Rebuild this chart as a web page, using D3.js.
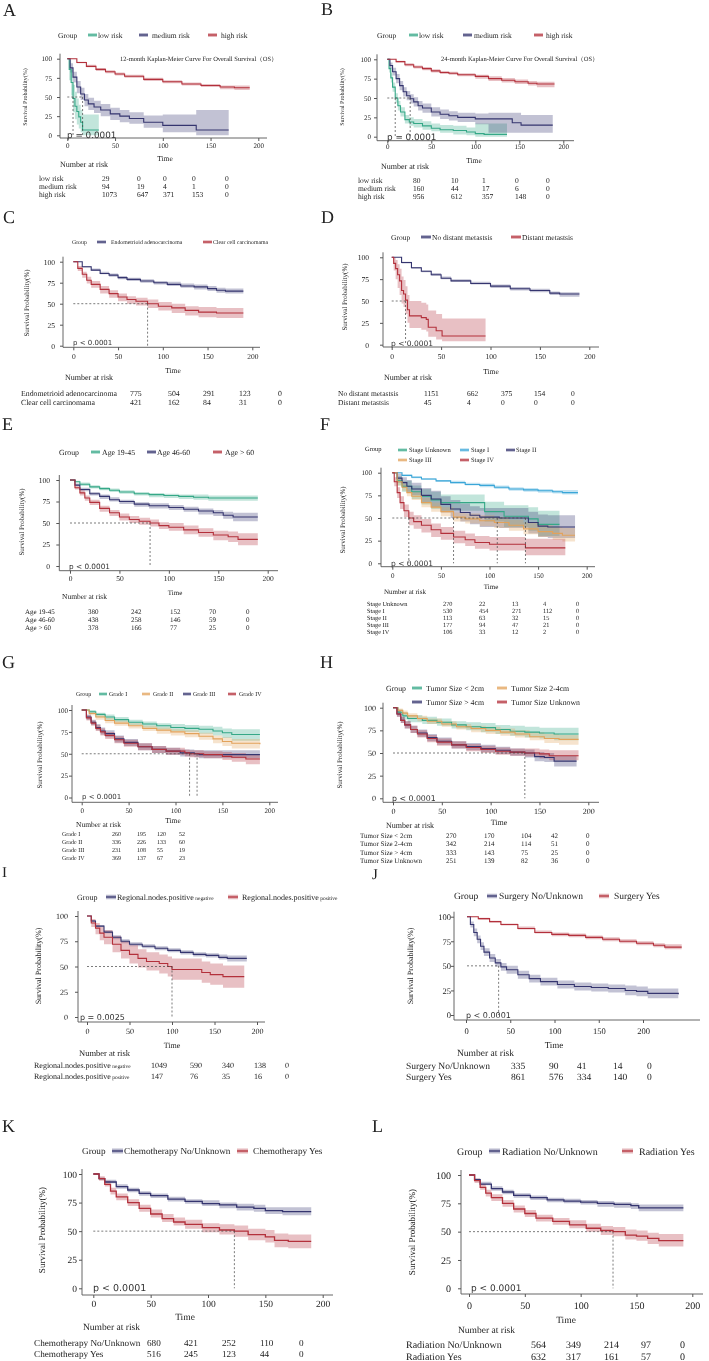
<!DOCTYPE html>
<html>
<head>
<meta charset="utf-8">
<script src="https://cdn.jsdelivr.net/npm/d3@7"></script>
<style>
body { margin: 0; background: #fff; }
svg { display: block; will-change: transform; }
text { font-family: "Liberation Serif", "Times New Roman", serif; fill: #222; -webkit-font-smoothing: antialiased; text-rendering: geometricPrecision; }
</style>
</head>
<body>
<svg id="fig" width="709" height="1361"></svg>
<script>
// ---- data: [time, survival, lower CI, upper CI] ----
const timeTicks = [0, 50, 100, 150, 200]
const survTicks = [0, 25, 50, 75, 100]

const groupsA = ["low risk", "medium risk", "high risk"]
const aLow = [[0,100,100,100],[2,86,72,98],[4,69,52,86],[6,48,30,66],[8,38,21,57],[10,31,14,48],[12,24,9,40],[14,17,4,33],[16,7,0,27],[33,7,0,27]]
const aMed = [[0,100,100,100],[3,88,82,94],[6,76,69,83],[10,63,55,71],[14,54,46,62],[18,46,38,54],[22,41,33,49],[28,37,29,45],[35,33,25,41],[45,28,20,36],[55,25,17,33],[65,22,15,30],[80,17,10,26],[100,13,4,27],[120,13,4,27],[135,7,0,33],[169,7,0,33]]
const aHigh = [[0,100,100,100],[10,95,94,96],[20,90,89,92],[30,86,84,88],[40,83,81,85],[50,80,78,82],[60,77,75,79],[80,73,71,75],[100,70,68,72],[120,67,65,69],[140,65,63,67],[160,63,60,65],[175,62,59,65],[191,62,59,65]]
const riskA = [[29,0,0,0,0],[94,19,4,1,0],[1073,647,371,153,0]]
const mediansA = [6, 16]

const groupsB = ["low risk", "medium risk", "high risk"]
const bLow = [[0,100,100,100],[2,88,83,93],[4,76,70,82],[6,64,58,70],[9,50,44,56],[12,40,34,46],[15,32,26,38],[20,22,17,28],[25,19,14,25],[30,17,12,23],[40,14,9,20],[50,11,7,17],[60,9,5,15],[75,8,3,14],[90,6,2,12],[100,4,0,17],[110,3,0,17],[136,3,0,17]]
const bMed = [[0,100,100,100],[3,92,88,96],[6,84,79,89],[10,75,69,81],[14,66,60,72],[18,58,52,64],[22,53,47,59],[26,49,43,55],[30,45,39,51],[35,40,34,46],[40,37,31,43],[50,32,26,38],[60,29,23,35],[70,27,21,33],[80,25,19,31],[100,23,16,30],[115,23,5,31],[142,18,5,31],[152,15,5,28],[188,15,5,28]]
const bHigh = [[0,100,100,100],[10,97,96,98],[20,93,91,95],[30,90,88,92],[40,88,86,90],[50,85,83,87],[60,83,81,85],[70,82,80,84],[80,80,78,82],[100,78,75,80],[115,75,72,78],[130,73,70,76],[145,71,68,74],[160,69,66,72],[170,68,64,71],[190,68,64,71]]
const riskB = [[80,10,1,0,0],[160,44,17,6,0],[956,612,357,148,0]]
const mediansB = [9, 26]

const groupsC = ["Endometrioid adenocarcinoma", "Clear cell carcinomama"]
const cEndo = [[0,100,100,100],[10,94,93,95],[20,90,89,92],[30,86,85,88],[40,84,82,86],[50,81,79,83],[60,79,77,81],[75,77,75,79],[90,75,73,77],[105,73,71,76],[120,71,69,74],[135,70,67,73],[150,68,65,71],[160,66,63,69],[170,65,62,68],[190,65,62,68]]
const cClear = [[0,100,100,100],[5,92,89,95],[10,85,81,88],[15,78,74,82],[20,73,69,77],[30,67,62,71],[40,62,57,66],[50,58,53,62],[60,55,50,59],[70,53,48,57],[83,50,45,55],[95,47,42,52],[110,45,39,50],[125,42,36,47],[140,40,34,46],[160,39,33,45],[190,39,33,45]]
const riskC = [[775,504,291,123,0],[421,162,84,31,0]]
const mediansC = [83]

const groupsD = ["No distant metastsis", "Distant metastsis"]
const dNo = [[0,100,100,100],[10,94,93,95],[20,88,87,89],[30,84,83,85],[40,80,79,82],[50,76,75,78],[60,73,72,75],[80,70,69,72],[100,67,65,69],[120,64,62,66],[140,62,60,64],[160,59,57,61],[170,58,55,60],[190,58,55,60]]
const dDist = [[0,100,100,100],[2,93,85,100],[4,87,75,97],[6,80,65,92],[8,73,57,87],[10,62,47,78],[12,58,43,74],[14,51,35,67],[16,40,25,57],[18,33,19,50],[25,33,19,50],[30,31,17,48],[35,29,15,46],[37,20,9,39],[45,16,6,35],[51,10,4,30],[95,10,4,30]]
const riskD = [[1151,662,375,154,0],[45,4,0,0,0]]
const mediansD = [14]

const groupsE = ["Age 19-45", "Age 46-60", "Age > 60"]
const eYoung = [[0,100,100,100],[5,98,97,99],[10,95,93,97],[20,92,90,94],[30,90,88,92],[40,88,86,90],[50,86,84,88],[65,84,82,86],[80,83,80,85],[95,82,79,84],[110,81,78,83],[125,80,77,83],[140,79,76,82],[160,79,76,82],[190,79,75,82]]
const eMid = [[0,100,100,100],[5,94,93,96],[10,89,87,91],[20,84,82,86],[30,81,78,83],[40,77,75,80],[50,75,72,77],[65,72,69,74],[80,70,67,73],[100,68,65,71],[115,66,63,69],[130,64,60,67],[145,62,58,65],[155,59,55,63],[165,57,52,62],[190,57,51,63]]
const eOld = [[0,100,100,100],[5,91,89,93],[10,85,82,88],[15,79,76,82],[20,74,71,77],[30,67,63,70],[40,62,58,65],[50,57,53,61],[60,54,50,58],[70,52,48,56],[81,50,46,54],[90,47,43,51],[100,45,41,50],[115,42,37,47],[130,39,34,44],[145,36,30,41],[160,34,28,40],[170,31,24,38],[190,31,24,38]]
const riskE = [[380,242,152,70,0],[438,258,146,59,0],[378,166,77,25,0]]
const mediansE = [81]

const groupsF = ["Stage Unknown", "Stage I", "Stage II", "Stage III", "Stage IV"]
const fUnk = [[0,100,100,100],[5,91,86,96],[10,85,79,91],[20,79,71,86],[30,74,65,82],[40,70,60,79],[50,67,58,76],[94,67,58,76],[95,57,46,68],[115,52,40,64],[140,49,36,62],[150,43,30,58],[172,43,30,58]]
const fI = [[0,100,100,100],[10,97,96,98],[20,95,94,96],[30,93,92,94],[45,91,90,92],[60,89,88,91],[75,87,86,89],[90,86,84,88],[105,84,82,86],[120,82,80,84],[135,81,79,83],[150,80,78,82],[165,79,77,81],[175,78,76,81],[191,78,76,81]]
const fII = [[0,100,100,100],[5,94,89,99],[10,89,83,95],[15,85,78,92],[20,82,75,89],[30,75,67,83],[40,71,62,80],[50,65,56,74],[60,60,50,70],[70,56,46,66],[80,53,43,63],[90,51,40,61],[110,50,39,61],[138,50,39,61],[140,45,33,57],[150,41,29,54],[160,40,28,53],[188,40,28,53]]
const fIII = [[0,100,100,100],[5,90,86,94],[10,84,80,88],[15,78,74,82],[20,74,70,79],[30,67,62,72],[40,62,57,67],[50,57,52,62],[63,51,46,56],[75,49,44,55],[90,47,41,53],[105,45,39,51],[120,42,36,48],[135,38,32,45],[150,35,29,42],[165,33,26,40],[175,31,24,39],[188,31,24,39]]
const fIV = [[0,100,100,100],[2,90,85,95],[5,78,72,84],[8,67,60,74],[12,58,51,65],[17,50,42,57],[22,46,38,53],[30,42,34,49],[40,37,29,44],[50,33,26,40],[63,29,22,36],[75,26,19,33],[85,23,16,30],[100,21,14,29],[136,21,14,29],[137,17,9,27],[178,17,9,27]]
const riskF = [[270,22,13,4,0],[530,454,271,112,0],[113,63,32,15,0],[177,94,47,21,0],[106,33,12,2,0]]
const mediansF = [17, 63, 108, 137]

const groupsG = ["Grade I", "Grade II", "Grade III", "Grade IV"]
const gI = [[0,100,100,100],[8,98,96,100],[15,95,92,97],[25,92,89,95],[35,89,86,92],[50,86,83,89],[65,84,80,87],[80,82,78,85],[95,80,76,84],[110,79,75,83],[125,78,73,82],[140,76,71,81],[150,74,68,79],[160,72,65,78],[190,72,64,79]]
const gII = [[0,100,100,100],[8,96,94,98],[15,92,89,94],[25,88,85,91],[35,85,82,88],[50,82,79,85],[65,79,76,82],[80,77,73,80],[95,75,71,78],[110,73,69,77],[125,70,66,74],[140,67,62,71],[150,64,59,69],[160,62,56,67],[190,61,55,67]]
const gIII = [[0,100,100,100],[5,92,89,95],[10,86,83,89],[15,80,77,84],[20,76,72,80],[25,73,69,77],[35,67,63,71],[45,63,59,67],[60,58,54,62],[75,55,51,59],[90,53,49,57],[105,51,47,55],[120,50,46,54],[125,49,45,54],[190,49,44,54]]
const gIV = [[0,100,100,100],[5,91,88,94],[10,85,82,88],[15,79,76,83],[20,75,71,79],[25,71,67,75],[35,66,62,70],[45,62,58,66],[60,58,54,62],[75,55,51,59],[90,53,49,57],[110,51,47,55],[115,50,46,54],[130,49,45,53],[150,47,43,52],[160,46,41,51],[175,44,38,49],[190,44,38,49]]
const riskG = [[260,195,120,52],[336,226,133,60],[231,108,55,19],[369,137,67,23]]
const mediansG = [115, 123]

const groupsH = ["Tumor Size < 2cm", "Tumor Size 2-4cm", "Tumor Size > 4cm", "Tumor Size Unknown"]
const hSmall = [[0,100,100,100],[5,95,92,98],[10,91,87,95],[15,88,84,92],[30,86,82,90],[45,84,80,88],[60,81,77,85],[75,79,75,84],[90,78,73,83],[105,76,71,81],[120,74,69,80],[135,73,67,79],[150,72,66,78],[165,71,64,78],[190,71,64,78]]
const hMid = [[0,100,100,100],[5,97,95,99],[10,94,92,97],[15,91,88,94],[25,88,85,91],[35,85,82,88],[50,82,79,85],[65,79,76,82],[80,77,73,80],[95,75,71,79],[110,73,69,77],[125,71,67,75],[140,68,64,73],[155,66,61,71],[170,65,59,70],[190,65,59,70]]
const hLarge = [[0,100,100,100],[4,93,90,96],[8,86,83,90],[12,81,77,85],[18,76,72,80],[25,72,68,76],[35,67,63,71],[45,63,59,67],[60,59,55,63],[75,57,53,61],[90,55,51,59],[105,53,49,57],[120,51,47,55],[135,50,45,54],[145,46,41,51],[155,45,40,50],[165,41,35,47],[188,41,35,47]]
const hUnk = [[0,100,100,100],[4,93,90,96],[8,86,83,90],[12,81,77,85],[18,76,72,80],[25,71,67,75],[35,66,62,70],[45,62,58,66],[60,59,55,63],[75,56,52,60],[90,54,50,58],[105,52,48,56],[120,51,47,55],[135,50,46,55],[150,49,44,54],[160,47,42,53],[190,47,41,53]]
const riskH = [[270,170,104,42,0],[342,214,114,51,0],[333,143,75,25,0],[251,139,82,36,0]]
const mediansH = [135]

const groupsI = ["Regional.nodes.positive negative", "Regional.nodes.positive positive"]
const iNeg = [[0,100,100,100],[5,95,94,96],[10,90,89,91],[20,84,83,86],[30,79,77,81],[40,75,73,77],[50,72,70,74],[65,70,68,72],[80,68,66,70],[95,66,64,68],[110,64,62,66],[125,62,60,64],[140,61,59,63],[155,59,57,62],[165,58,55,61],[188,58,55,61]]
const iPos = [[0,100,100,100],[5,93,89,97],[10,88,82,93],[15,83,76,89],[20,79,72,86],[30,72,64,80],[40,66,58,75],[50,62,53,71],[60,58,49,67],[70,55,46,64],[85,53,43,62],[95,50,40,60],[100,47,37,58],[120,47,37,58],[135,44,34,55],[145,42,32,53],[160,40,29,51],[185,40,29,51]]
const riskI = [[1049,590,340,138,0],[147,76,35,16,0]]
const mediansI = [100]

const groupsJ = ["Surgery No/Unknown", "Surgery Yes"]
const jNo = [[0,100,100,100],[3,92,89,95],[6,84,80,88],[9,77,73,81],[12,70,66,74],[15,64,60,68],[20,58,54,62],[25,53,49,57],[30,49,45,53],[35,46,42,50],[45,41,37,45],[55,37,33,41],[65,34,30,38],[80,31,27,35],[95,29,25,33],[110,28,24,32],[125,27,23,31],[140,25,20,30],[150,24,19,29],[160,22,17,27],[187,21,16,27]]
const jYes = [[0,100,100,100],[10,98,97,99],[20,95,94,96],[30,92,91,93],[45,88,87,90],[60,84,83,86],[75,82,80,84],[90,81,79,83],[105,79,77,81],[120,77,75,79],[135,75,73,77],[150,73,71,75],[165,71,69,73],[175,69,67,72],[190,69,67,72]]
const riskJ = [[335,90,41,14,0],[861,576,334,140,0]]
const mediansJ = [28]

const groupsK = ["Chemotherapy No/Unknown", "Chemotherapy Yes"]
const kNo = [[0,100,100,100],[5,96,95,97],[10,93,92,95],[20,89,87,91],[30,86,84,88],[40,83,81,85],[50,81,79,83],[65,78,76,80],[80,76,74,78],[95,74,72,77],[110,73,70,75],[125,71,68,74],[140,70,67,73],[150,68,65,71],[165,67,64,71],[190,67,63,71]]
const kYes = [[0,100,100,100],[5,96,94,98],[10,91,89,94],[15,85,82,88],[20,80,77,83],[30,75,72,78],[40,70,67,73],[50,65,62,69],[60,61,58,65],[70,58,55,62],[80,56,52,60],[95,53,49,57],[110,51,47,56],[123,50,45,55],[135,47,42,52],[150,45,40,51],[158,42,36,48],[170,41,35,47],[190,41,34,48]]
const riskK = [[680,421,252,110,0],[516,245,123,44,0]]
const mediansK = [123]

const groupsL = ["Radiation No/Unknown", "Radiation Yes"]
const lNo = [[0,100,100,100],[5,96,95,97],[10,92,91,94],[20,88,86,90],[30,85,83,87],[40,82,80,84],[55,80,78,82],[70,78,76,80],[85,77,75,79],[100,76,74,78],[115,75,72,77],[130,74,71,76],[145,73,70,75],[152,71,68,74],[192,71,68,75]]
const lYes = [[0,100,100,100],[5,95,93,97],[10,89,87,92],[15,84,81,87],[20,80,77,83],[30,75,72,78],[40,70,67,73],[50,66,63,69],[60,62,59,65],[75,59,56,62],[90,56,53,60],[105,53,50,57],[118,51,47,55],[129,50,46,54],[140,47,43,52],[150,46,42,51],[160,44,39,49],[170,42,37,48],[192,42,36,48]]
const riskL = [[564,349,214,97,0],[632,317,161,57,0]]
const mediansL = [129]

// line colours (bands use the same colour, faded)
const COL = {
    green: "#35a887",
    navy: "#35356f",
    red: "#b3303b",
    orange: "#e2a25b",
    blue: "#3aa6d8"
}

const svg = d3.select("#fig")

function txt(g, x, y, s, fs, anchor) {
    return g.append("text")
        .attr("x", x).attr("y", y)
        .attr("dy", "0.35em")
        .attr("font-size", fs)
        .attr("text-anchor", anchor || "start")
        .text(s)
}

// label with a small trailing word (panel I)
function nameText(g, x, y, s, fs, small) {
    if (!small) return txt(g, x, y, s, fs)
    let k = s.lastIndexOf(" ")
    let t = txt(g, x, y, s.slice(0, k), fs)
    t.append("tspan").attr("font-size", fs * 0.68).text(s.slice(k))
    return t
}

function drawPanel(p) {
    let g = svg.append("g")
    let fs = p.fs
    let x = d3.scaleLinear().domain([0, 200]).range(p.xr)
    let y = d3.scaleLinear().domain([0, 100]).range(p.yr)
    // the tick labels of panel J sit on a narrower span than its curves
    let xt = p.xtr ? d3.scaleLinear().domain([0, 200]).range(p.xtr) : x

    txt(g, p.letter[0], p.letter[1], p.id, p.letter[2] || 18)

    g.append("text")
        .attr("transform", "translate(" + p.ytitle[0] + "," + p.ytitle[1] + ") rotate(-90)")
        .attr("text-anchor", "middle")
        .attr("dy", "0.35em")
        .attr("font-size", fs.y)
        .text("Survival Probability(%)")

    // legend
    txt(g, p.groupAt[0], p.groupAt[1], "Group", fs.l)
    p.legend.forEach(function (it, i) {
        let c = COL[p.colors[i]]
        g.append("rect")
            .attr("x", it[0]).attr("y", it[2] - p.sw[1] / 2)
            .attr("width", p.sw[0]).attr("height", p.sw[1])
            .attr("fill", c).attr("fill-opacity", 0.35)
        g.append("line")
            .attr("x1", it[0]).attr("x2", it[0] + p.sw[0])
            .attr("y1", it[2]).attr("y2", it[2])
            .attr("stroke", c).attr("stroke-width", 1.3)
        nameText(g, it[1], it[2], p.groups[i], fs.l, p.small)
    })

    if (p.title) {
        txt(g, p.title[0], p.title[1], p.title[2], fs.title)
    }

    // confidence bands and curves
    let area = d3.area()
        .x(function (d) { return x(d[0]) })
        .y0(function (d) { return y(d[2]) })
        .y1(function (d) { return y(d[3]) })
        .curve(d3.curveStepAfter)
    let line = d3.line()
        .x(function (d) { return x(d[0]) })
        .y(function (d) { return y(d[1]) })
        .curve(d3.curveStepAfter)

    p.series.forEach(function (s, i) {
        g.append("path").attr("d", area(s))
            .attr("fill", COL[p.colors[i]]).attr("fill-opacity", 0.3)
    })
    p.series.forEach(function (s, i) {
        g.append("path").attr("d", line(s))
            .attr("fill", "none")
            .attr("stroke", COL[p.colors[i]])
            .attr("stroke-width", p.lw || 1.1)
    })

    // median lines
    let mmax = d3.max(p.medians)
    g.append("line")
        .attr("x1", x(0)).attr("x2", x(mmax))
        .attr("y1", y(50)).attr("y2", y(50))
        .attr("stroke", "#444").attr("stroke-width", 0.7)
        .attr("stroke-dasharray", "2,2")
    p.medians.forEach(function (m) {
        g.append("line")
            .attr("x1", x(m)).attr("x2", x(m))
            .attr("y1", y(50)).attr("y2", y(0))
            .attr("stroke", "#444").attr("stroke-width", 0.7)
            .attr("stroke-dasharray", "2,2")
    })

    // axes
    let yAxis = g.append("g")
        .attr("transform", "translate(" + p.ax + ",0)")
        .call(d3.axisLeft(y).tickValues(survTicks).tickSize(3))
    yAxis.select(".domain").remove()
    yAxis.selectAll("text")
        .attr("x", p.ytl - p.ax)
        .attr("font-size", fs.t)
        .attr("font-family", "Liberation Serif")
    yAxis.selectAll("line").attr("stroke", "#555")

    let xAxis = g.append("g")
        .attr("transform", "translate(0," + p.xl + ")")
        .call(d3.axisBottom(xt).tickValues(timeTicks).tickSize(3))
    xAxis.select(".domain").remove()
    xAxis.selectAll("text")
        .attr("y", p.xtl - p.xl)
        .attr("dy", "0.35em")
        .attr("font-size", fs.t)
        .attr("font-family", "Liberation Serif")
    xAxis.selectAll("line").attr("stroke", "#555")

    g.append("line")
        .attr("x1", p.ax).attr("x2", p.ax)
        .attr("y1", y(100) - 5).attr("y2", p.xl)
        .attr("stroke", "#555").attr("stroke-width", 0.9)
    g.append("line")
        .attr("x1", p.ax).attr("x2", p.xend)
        .attr("y1", p.xl).attr("y2", p.xl)
        .attr("stroke", "#555").attr("stroke-width", 0.9)

    txt(g, p.pv[0], p.pv[1], p.pText || "p < 0.0001", fs.p)
        .style("font-family", "DejaVu Sans")
        .style("fill", "#333")

    txt(g, p.time[0], p.time[1], "Time", fs.time, "middle")
    txt(g, p.nar[0], p.nar[1], "Number at risk", fs.nar)

    // risk table
    p.risk.forEach(function (row, r) {
        nameText(g, p.rowX, p.rows[r], p.groups[r], fs.tab, p.small)
        row.forEach(function (v, c) {
            txt(g, p.cols[c], p.rows[r], String(v), fs.tab)
        })
    })
}

const panels = [
    { id: "A", letter: [3, 10], ytitle: [25, 97], groupAt: [58, 35], sw: [9, 4],
      legend: [[88, 98, 35], [139, 152, 35], [208, 221, 35]],
      groups: groupsA, colors: ["green", "navy", "red"], series: [aLow, aMed, aHigh], medians: mediansA, risk: riskA,
      xr: [67.3, 258.3], yr: [135.3, 58.7], ax: 60, xl: 138, xend: 267, ytl: 52, xtl: 146,
      time: [165, 158], nar: [60, 164], rows: [178, 186, 194], rowX: 39, cols: [102, 137, 163, 192, 225],
      pv: [67, 135], pText: "p = 0.0001",
      title: [120, 59, "12-month Kaplan-Meier Curve For Overall Survival（OS）"],
      fs: { t: 7, l: 7.5, tab: 7.5, nar: 8, time: 7.5, p: 8.8, y: 6, title: 6.5 } },
    { id: "B", letter: [321, 9], ytitle: [342, 97], groupAt: [377, 35], sw: [9, 4],
      legend: [[409, 419, 35], [463, 474, 35], [534, 546, 35]],
      groups: groupsB, colors: ["green", "navy", "red"], series: [bLow, bMed, bHigh], medians: mediansB, risk: riskB,
      xr: [387.3, 563.3], yr: [136.7, 59.3], ax: 377, xl: 140.7, xend: 574, ytl: 371, xtl: 147,
      time: [474, 160], nar: [381, 166], rows: [180, 188, 196], rowX: 358, cols: [413, 451, 482, 515, 546],
      pv: [387, 137], pText: "p = 0.0001",
      title: [441, 59, "24-month Kaplan-Meier Curve For Overall Survival（OS）"],
      fs: { t: 7, l: 7.5, tab: 7.5, nar: 8, time: 7.5, p: 8.8, y: 6, title: 6.5 } },
    { id: "C", letter: [3, 217], ytitle: [27, 303], groupAt: [72, 242], sw: [9, 3.5],
      legend: [[97, 111, 242], [203, 213, 242]],
      groups: groupsC, colors: ["navy", "red"], series: [cEndo, cClear], medians: mediansC, risk: riskC,
      xr: [73.3, 252.3], yr: [345.7, 261.7], ax: 63, xl: 347.3, xend: 260, ytl: 55, xtl: 356.7,
      time: [173, 370], nar: [65, 377], rows: [393, 402], rowX: 21, cols: [130, 168, 203, 239, 278],
      pv: [73, 343],
      fs: { t: 7.5, l: 5.8, tab: 7.8, nar: 8, time: 7.5, p: 7, y: 7 } },
    { id: "D", letter: [321, 217], ytitle: [345, 297], groupAt: [391, 237], sw: [10, 4],
      legend: [[421, 432, 237], [511, 522, 237]],
      groups: groupsD, colors: ["navy", "red"], series: [dNo, dDist], medians: mediansD, risk: riskD,
      xr: [391.7, 589.3], yr: [344.7, 257.3], ax: 383, xl: 347, xend: 599, ytl: 369, xtl: 356.7,
      time: [491, 371], nar: [384, 377], rows: [393, 402.5], rowX: 338, cols: [424, 467, 501, 534, 571],
      pv: [391, 343],
      fs: { t: 7.5, l: 7.5, tab: 7.5, nar: 8, time: 7.5, p: 7.5, y: 7 } },
    { id: "E", letter: [2, 424], ytitle: [22, 522], groupAt: [59, 452], sw: [9, 4],
      legend: [[91, 102, 452], [147, 157, 452], [213, 225, 452]],
      groups: groupsE, colors: ["green", "navy", "red"], series: [eYoung, eMid, eOld], medians: mediansE, risk: riskE,
      xr: [70, 267.7], yr: [566, 480], ax: 59.3, xl: 570.7, xend: 278, ytl: 50, xtl: 578,
      time: [175, 592.7], nar: [62, 596], rows: [612, 620, 628], rowX: 25, cols: [88, 131, 170, 209, 246],
      pv: [69, 566],
      fs: { t: 7.5, l: 7.8, tab: 7, nar: 7.5, time: 7, p: 7.3, y: 7 } },
    { id: "F", letter: [320, 424], ytitle: [343, 520], groupAt: [365, 449], sw: [9, 3.5],
      legend: [[398, 409, 450], [460, 471, 450], [506, 516, 450], [398, 409, 460], [460, 471, 460]],
      groups: groupsF, colors: ["green", "blue", "navy", "orange", "red"], series: [fUnk, fI, fII, fIII, fIV], medians: mediansF, risk: riskF,
      xr: [392.3, 586.7], yr: [563.3, 472.7], ax: 381, xl: 566.7, xend: 595, ytl: 372, xtl: 575.7,
      time: [491, 587], nar: [384, 592], rows: [604, 611, 618, 625, 632], rowX: 367, cols: [443, 479, 512, 543, 576],
      pv: [391, 563],
      fs: { t: 7, l: 6.5, tab: 6.3, nar: 7, time: 7, p: 7.5, y: 7 } },
    { id: "G", letter: [2, 662], ytitle: [40, 755], groupAt: [76, 694], sw: [8, 3.5],
      legend: [[99, 109, 694], [142, 153, 694], [183, 193, 694], [228, 239, 694]],
      groups: groupsG, colors: ["green", "orange", "navy", "red"], series: [gI, gII, gIII, gIV], medians: mediansG, risk: riskG,
      xr: [81.7, 269.3], yr: [797.5, 710], ax: 72, xl: 802.3, xend: 278, ytl: 68, xtl: 811,
      time: [173, 820.7], nar: [76, 824], rows: [834, 842, 850, 858], rowX: 62, cols: [112, 137, 157, 179],
      pv: [82, 797],
      fs: { t: 7, l: 6, tab: 6, nar: 7.5, time: 7.5, p: 7, y: 7 } },
    { id: "H", letter: [320, 662], ytitle: [340, 755], groupAt: [386, 688], sw: [10, 4],
      legend: [[412, 426, 688], [497, 511, 688], [412, 426, 702], [497, 511, 702]],
      groups: groupsH, colors: ["green", "orange", "navy", "red"], series: [hSmall, hMid, hLarge, hUnk], medians: mediansH, risk: riskH,
      xr: [393, 588.3], yr: [798.3, 707.7], ax: 383, xl: 802.3, xend: 599, ytl: 376, xtl: 811,
      time: [499, 821.7], nar: [386, 825], rows: [835.7, 844, 852.3, 860.7], rowX: 360, cols: [446, 484, 521, 551, 586],
      pv: [392, 798],
      fs: { t: 8, l: 7.8, tab: 7, nar: 8, time: 8, p: 7.8, y: 7 } },
    { id: "I", letter: [2, 872, 15], ytitle: [38, 966], groupAt: [77, 897], sw: [10, 4.5], small: true,
      legend: [[106, 117, 897], [228, 242, 897]],
      groups: groupsI, colors: ["navy", "red"], series: [iNeg, iPos], medians: mediansI, risk: riskI,
      xr: [87, 257], yr: [1017, 916], ax: 78, xl: 1022, xend: 265, ytl: 68, xtl: 1031,
      time: [172, 1045], nar: [79, 1053], rows: [1065, 1075.7], rowX: 34, cols: [151, 190, 222, 254, 285],
      pv: [80, 1017], pText: "p = 0.0025",
      fs: { t: 8, l: 8, tab: 8, nar: 8.5, time: 8, p: 8, y: 8 } },
    { id: "J", letter: [372, 873.5, 15], ytitle: [410, 966], groupAt: [454, 896], sw: [10, 4.5],
      legend: [[487, 499, 896], [599, 614, 896]],
      groups: groupsJ, colors: ["navy", "red"], series: [jNo, jYes], medians: mediansJ, risk: riskJ,
      xr: [467, 693], xtr: [466, 643], yr: [1015, 916.7], ax: 454, xl: 1020, xend: 700, ytl: 451, xtl: 1031,
      time: [554, 1045], nar: [457, 1053], rows: [1065.7, 1076.7], rowX: 406, cols: [511, 549, 577, 613, 647],
      pv: [466, 1015],
      fs: { t: 8.5, l: 9.5, tab: 9.5, nar: 9.5, time: 9, p: 8, y: 8 } },
    { id: "K", letter: [2, 1126], ytitle: [42, 1230], groupAt: [82, 1151], sw: [11, 5],
      legend: [[112, 124, 1151], [237, 253, 1151]],
      groups: groupsK, colors: ["navy", "red"], series: [kNo, kYes], medians: mediansK, risk: riskK,
      xr: [93.3, 322.7], yr: [1288.3, 1174], ax: 82, xl: 1295, xend: 333, ytl: 77, xtl: 1304,
      time: [185, 1317], nar: [83, 1327], rows: [1342.7, 1354], rowX: 34, cols: [147, 184, 222, 260, 299],
      pv: [93, 1288], lw: 1.3,
      fs: { t: 9.5, l: 9.2, tab: 9.2, nar: 9.5, time: 9.5, p: 9.5, y: 9 } },
    { id: "L", letter: [372, 1126], ytitle: [412, 1232], groupAt: [457, 1151], sw: [11, 5],
      legend: [[489, 502, 1151], [622, 639, 1151]],
      groups: groupsL, colors: ["navy", "red"], series: [lNo, lYes], medians: mediansL, risk: riskL,
      xr: [469, 692.3], yr: [1288.3, 1175], ax: 461, xl: 1294, xend: 703, ytl: 451, xtl: 1305.7,
      time: [566, 1320], nar: [458, 1330], rows: [1344, 1356], rowX: 406, cols: [531, 566, 604, 641, 680],
      pv: [471, 1288], lw: 1.3,
      fs: { t: 10, l: 10, tab: 10, nar: 9.5, time: 9.5, p: 9, y: 9 } }
]

panels.forEach(drawPanel)
</script>
</body>
</html>
